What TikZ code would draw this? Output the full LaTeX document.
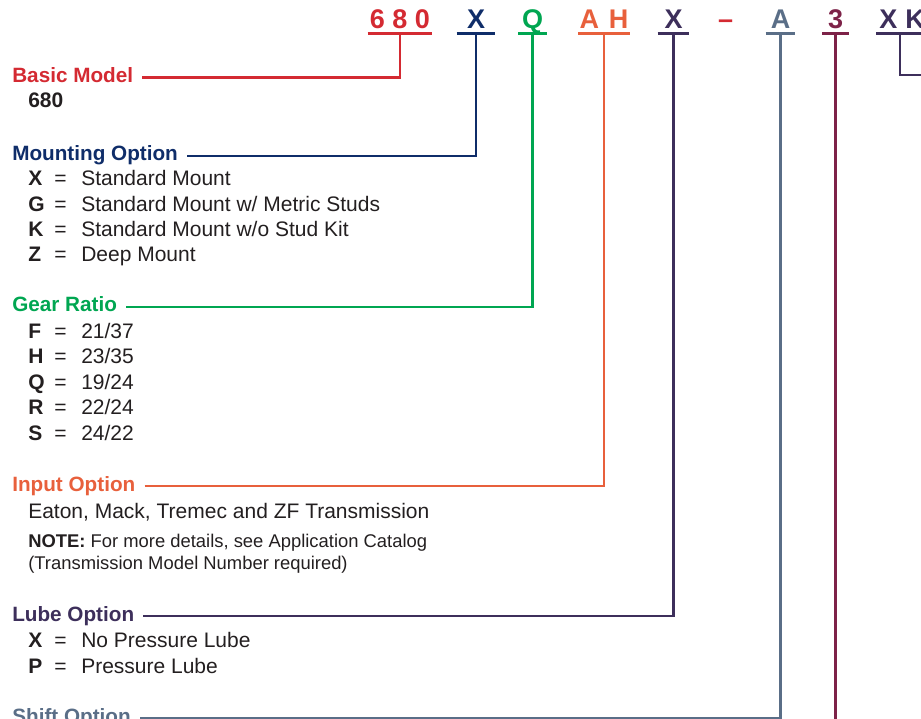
\documentclass[tikz,border=0pt]{standalone}
\usepackage{fontspec}
\setmainfont{Liberation Sans}
\usepackage{tikz}
\usetikzlibrary{positioning}
\definecolor{modelred}{HTML}{D42A32}
\definecolor{mountblue}{HTML}{0F2D69}
\definecolor{geargreen}{HTML}{00A651}
\definecolor{inputorange}{HTML}{E8603C}
\definecolor{lubepurple}{HTML}{3D2F5B}
\definecolor{shiftslate}{HTML}{5A6E87}
\definecolor{plum}{HTML}{7D2248}
\definecolor{ink}{HTML}{231F20}
\newcommand{\headfont}{\bfseries\fontsize{20.7}{24}\selectfont}
\newcommand{\codefont}{\bfseries\fontsize{27}{30}\selectfont}
\newcommand{\listfont}{\fontsize{21}{25.5}\selectfont}
\newcommand{\notefont}{\fontsize{18.4}{22}\selectfont}
\newcommand{\opt}[2]{\makebox[26pt][l]{\textbf{#1}}\makebox[27pt][l]{=}#2}

\begin{document}
\begin{tikzpicture}[x=1pt,y=-1pt,line width=2.6pt,
    head/.style={anchor=base west, inner xsep=8pt, inner ysep=0pt,
      text height=15pt, text depth=5pt, font=\headfont},
    code/.style={anchor=base, inner xsep=0pt, inner ysep=4pt,
      text depth=0pt, font=\codefont},
    list/.style={anchor=base west, inner sep=0pt, align=left, text=ink,
      font=\listfont},
    uline/.style={line width=2.8pt}]
  \useasboundingbox (0,0) rectangle (921,719);
  \coordinate (bot) at (0,730);
  \coordinate (xkend) at (930,75);
  % part number
  \node[code, text=modelred, minimum width=62pt] (c680) at (400,28.3) {6\kern7.5pt8\kern7.5pt0};
  \node[code, text=mountblue, minimum width=36pt] (cx) at (476,28.3) {X};
  \node[code, text=geargreen, minimum width=26pt] (cq) at (532.5,28.3) {Q};
  \node[code, text=inputorange, minimum width=49pt] (cah) at (604,28.3) {A\kern10ptH};
  \node[code, text=lubepurple, minimum width=29pt] (clube) at (673.5,28.3) {X};
  \node[code, text=modelred] (dash) at (725.5,28.3) {–};
  \node[code, text=shiftslate, minimum width=27pt] (ca) at (780.5,28.3) {A};
  \node[code, text=plum, minimum width=24pt] (c3) at (835.5,28.3) {3};
  \node[code, text=lubepurple, minimum width=49pt] (cxk) at (902,28.3) {X\kern8ptK};
  \draw[uline, modelred] (c680.south west) -- (c680.south east);
  \draw[uline, mountblue] (cx.south west) -- (cx.south east);
  \draw[uline, geargreen] (cq.south west) -- (cq.south east);
  \draw[uline, inputorange] (cah.south west) -- (cah.south east);
  \draw[uline, lubepurple] (clube.south west) -- (clube.south east);
  \draw[uline, shiftslate] (ca.south west) -- (ca.south east);
  \draw[uline, plum] (c3.south west) -- (c3.south east);
  \draw[uline, lubepurple] (cxk.south west) -- (cxk.south east);
  % options (a list node sits on the baseline of its last line)
  \node[head, text=modelred] (basic) at (3,82.5) {Basic Model};
  \node[list, font=\listfont\bfseries] (model) at (27,108) {680};
  \node[head, text=mountblue] (mount) at (3,161) {Mounting Option};
  \node[list] (mountlist) at (27,262) {\opt{X}{Standard Mount}\\
    \opt{G}{Standard Mount w/ Metric Studs}\\
    \opt{K}{Standard Mount w/o Stud Kit}\\
    \opt{Z}{Deep Mount}};
  \node[head, text=geargreen] (gear) at (3,312) {Gear Ratio};
  \node[list] (gearlist) at (27,440) {\opt{F}{21/37}\\ \opt{H}{23/35}\\
    \opt{Q}{19/24}\\ \opt{R}{22/24}\\ \opt{S}{24/22}};
  \node[head, text=inputorange] (input) at (3,491) {Input Option};
  \node[list] (inputlist) at (27,518) {Eaton, Mack, Tremec and ZF Transmission};
  \node[list, font=\notefont] (note) at (27,569) {\textbf{NOTE:} For more details, see Application Catalog\\
    (Transmission Model Number required)};
  \node[head, text=lubepurple] (lube) at (3,621) {Lube Option};
  \node[list, font=\fontsize{21}{26}\selectfont] (lubelist) at (27,673) {\opt{X}{No Pressure Lube}\\
    \opt{P}{Pressure Lube}};
  \node[head, text=shiftslate] (shift) at (3,723) {Shift Option};
  % connectors
  \draw[modelred] (basic.east) -| (c680.south);
  \draw[mountblue] (mount.east) -| (cx.south);
  \draw[geargreen] (gear.east) -| (cq.south);
  \draw[inputorange] (input.east) -| (cah.south);
  \draw[lubepurple] (lube.east) -| (clube.south);
  \draw[shiftslate] (shift.east) -| (ca.south);
  \draw[plum] (c3.south) -- (c3.south |- bot);
  \draw[lubepurple] ([xshift=-2pt]cxk.south) |- (xkend);
\end{tikzpicture}
\end{document}
